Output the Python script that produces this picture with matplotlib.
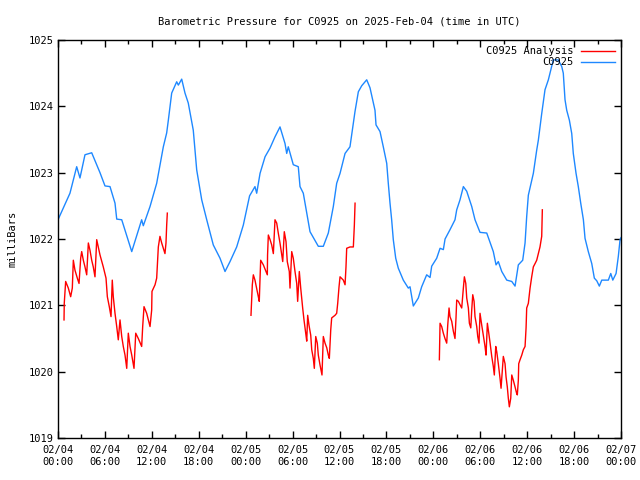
import numpy as np
import pandas as pd
import matplotlib
matplotlib.use('Agg')
import matplotlib.pyplot as plt
import matplotlib.dates as mdates

start = pd.Timestamp('2025-02-04 00:00')

# C0925 observed pressure (hours since 02/04 00:00, mbar)
obs_hours = [0.0, 1.53, 2.39, 2.81, 3.45, 4.31, 5.37, 6.01, 6.65, 7.29, 7.51, 8.15, 9.43,
             10.70, 10.91, 11.77, 12.62, 13.47, 13.90, 14.11, 14.54, 15.18, 15.39, 15.82,
             16.24, 16.66, 17.30, 17.74, 18.38, 19.02, 19.86, 20.72, 21.36, 22.0, 22.85,
             23.70, 24.5, 25.19, 25.41, 25.84, 26.48, 27.11, 27.75, 28.39, 29.03, 29.25,
             29.45, 30.09, 30.73, 30.95, 31.37, 31.81, 32.23, 33.29, 33.93, 34.57, 35.21,
             35.64, 36.07, 36.71, 37.34, 37.98, 38.41, 38.84, 39.48, 39.90, 40.54, 40.67,
             41.18, 41.60, 42.04, 42.24, 42.46, 42.67, 42.88, 43.19, 43.52, 44.16, 44.80,
             45.02, 45.44, 46.08,
             46.51, 47.15, 47.58, 47.79, 48.43, 48.86, 49.28, 49.50, 50.13, 50.77, 50.99,
             51.41, 51.84, 52.27, 52.91, 53.33, 53.97, 54.83, 55.67, 56.02, 56.31, 56.75,
             57.39, 58.03, 58.45, 58.87, 59.43, 59.73, 59.94, 60.15, 60.79, 61.22, 61.43,
             61.86, 62.28, 62.71, 63.34, 63.98, 64.42, 64.62, 64.84, 65.06, 65.40, 65.70,
             65.90, 66.25, 66.54, 66.85, 67.19, 67.40, 67.82, 68.26, 68.59, 68.90, 69.23,
             69.54, 70.38, 70.69, 70.95, 71.37, 71.66, 71.88, 72.0]
obs_mb = [1022.29, 1022.69, 1023.09, 1022.92, 1023.27, 1023.30, 1023.00, 1022.80, 1022.79,
          1022.54, 1022.30, 1022.29, 1021.81, 1022.29, 1022.20, 1022.49, 1022.84, 1023.39,
          1023.60, 1023.79, 1024.20, 1024.37, 1024.32, 1024.41, 1024.20, 1024.05, 1023.64,
          1023.04, 1022.59, 1022.29, 1021.91, 1021.71, 1021.51, 1021.66, 1021.88, 1022.21,
          1022.65, 1022.79, 1022.69, 1022.99, 1023.24, 1023.37, 1023.54, 1023.69, 1023.44,
          1023.29, 1023.39, 1023.12, 1023.09, 1022.79, 1022.69, 1022.39, 1022.11, 1021.89,
          1021.89, 1022.09, 1022.49, 1022.84, 1022.99, 1023.29, 1023.39, 1023.92, 1024.22,
          1024.31, 1024.40, 1024.28, 1023.94, 1023.72, 1023.62, 1023.39, 1023.14, 1022.84,
          1022.54, 1022.29, 1021.99, 1021.71, 1021.56, 1021.38, 1021.26, 1021.28, 1020.99,
          1021.11, 1021.28, 1021.46,
          1021.42, 1021.59, 1021.71, 1021.86, 1021.84, 1022.00, 1022.14, 1022.29, 1022.44,
          1022.59, 1022.79, 1022.72, 1022.49, 1022.29, 1022.10, 1022.09, 1021.81, 1021.61,
          1021.66, 1021.51, 1021.38, 1021.36, 1021.29, 1021.61, 1021.68, 1021.94, 1022.34,
          1022.66, 1022.99, 1023.34, 1023.49, 1023.89, 1024.25, 1024.40, 1024.70, 1024.70,
          1024.60, 1024.50, 1024.10, 1023.94, 1023.79, 1023.59, 1023.29, 1022.99, 1022.79,
          1022.54, 1022.29, 1022.01, 1021.81, 1021.63, 1021.41, 1021.37, 1021.29, 1021.38,
          1021.38, 1021.48, 1021.38, 1021.48, 1021.74, 1021.99, 1022.02]

# C0925 Analysis, three runs
ana1_hours = [0.77, 0.80, 0.98, 1.32, 1.62, 1.83, 1.96, 2.17, 2.47, 2.69, 2.90, 3.03, 3.24,
              3.45, 3.67, 3.88, 4.09, 4.31, 4.51, 4.73, 4.95, 5.15, 5.37, 5.79, 6.14, 6.31,
              6.56, 6.78, 6.94, 7.07, 7.29, 7.51, 7.71, 7.93, 8.15, 8.35, 8.57, 8.79, 8.99,
              9.21, 9.43, 9.72, 9.94, 10.27, 10.70, 10.83, 11.0, 11.34, 11.77, 11.98, 12.02,
              12.41, 12.62, 12.83, 13.04, 13.26, 13.68, 13.81, 13.90, 13.98]
ana1_mb = [1020.78, 1021.03, 1021.36, 1021.26, 1021.13, 1021.26, 1021.68, 1021.53, 1021.41,
           1021.33, 1021.71, 1021.81, 1021.68, 1021.58, 1021.46, 1021.94, 1021.83, 1021.68,
           1021.58, 1021.43, 1021.99, 1021.88, 1021.76, 1021.58, 1021.41, 1021.13, 1020.98,
           1020.83, 1021.38, 1021.13, 1020.88, 1020.68, 1020.48, 1020.78, 1020.53, 1020.38,
           1020.25, 1020.05, 1020.58, 1020.38, 1020.25, 1020.05, 1020.58, 1020.50, 1020.38,
           1020.68, 1020.98, 1020.88, 1020.68, 1020.93, 1021.21, 1021.31, 1021.41, 1021.88,
           1022.04, 1021.94, 1021.78, 1021.94, 1022.21, 1022.39]

ana2_hours = [24.68, 24.85, 24.98, 25.19, 25.62, 25.74, 25.83, 25.92, 26.26, 26.77, 26.80,
              26.90, 27.12, 27.33, 27.54, 27.75, 27.97, 28.17, 28.39, 28.74, 28.94, 29.16,
              29.32, 29.58, 29.67, 29.89, 30.09, 30.31, 30.53, 30.65, 30.86, 31.04, 31.29,
              31.46, 31.68, 31.81, 31.93, 32.10, 32.32, 32.45, 32.65, 32.78, 32.96, 33.16,
              33.29, 33.51, 33.76, 33.93, 34.15, 34.37, 34.57, 34.70, 34.88, 35.00, 35.43,
              35.64, 35.77, 35.94, 36.07, 36.49, 36.71, 36.83, 36.92, 37.34, 37.77, 37.90,
              37.99]
ana2_mb = [1020.85, 1021.31, 1021.46, 1021.38, 1021.13, 1021.06, 1021.38, 1021.68, 1021.61,
           1021.46, 1021.76, 1022.06, 1021.99, 1021.91, 1021.78, 1022.29, 1022.24, 1022.09,
           1021.94, 1021.66, 1022.11, 1021.96, 1021.66, 1021.51, 1021.26, 1021.81, 1021.71,
           1021.51, 1021.33, 1021.06, 1021.51, 1021.26, 1020.96, 1020.78, 1020.58, 1020.46,
           1020.85, 1020.70, 1020.55, 1020.33, 1020.20, 1020.05, 1020.53, 1020.43, 1020.25,
           1020.10, 1019.95, 1020.53, 1020.43, 1020.36, 1020.25, 1020.20, 1020.63, 1020.81,
           1020.85, 1020.88, 1021.03, 1021.28, 1021.43, 1021.38, 1021.31, 1021.58, 1021.86,
           1021.88, 1021.88, 1022.21, 1022.54]

ana3_hours = [48.77, 48.86, 49.07, 49.28, 49.49, 49.71, 49.84, 50.01, 50.13, 50.35, 50.56,
              50.77, 50.90, 50.99, 51.20, 51.41, 51.63, 51.84, 51.97, 52.15, 52.27, 52.48,
              52.61, 52.79, 52.91, 53.04, 53.21, 53.33, 53.55, 53.68, 53.84, 53.97, 54.19,
              54.39, 54.61, 54.74, 54.91, 55.09, 55.26, 55.47, 55.67, 55.80, 55.98, 56.11,
              56.31, 56.53, 56.66, 56.95, 57.17, 57.30, 57.46, 57.59, 57.72, 57.90, 58.03,
              58.23, 58.45, 58.66, 58.74, 58.87, 58.92, 59.09, 59.31, 59.51, 59.73, 59.86,
              59.94, 60.15, 60.37, 60.58, 60.79, 61.01, 61.22, 61.43, 61.64, 61.86, 61.94]
ana3_mb = [1020.18, 1020.73, 1020.68, 1020.58, 1020.50, 1020.43, 1020.70, 1020.96, 1020.83,
           1020.76, 1020.61, 1020.50, 1020.81, 1021.08, 1021.06, 1021.01, 1020.96, 1021.26,
           1021.43, 1021.33, 1021.11, 1020.96, 1020.73, 1020.66, 1020.93, 1021.16, 1021.06,
           1020.83, 1020.68, 1020.53, 1020.43, 1020.88, 1020.70, 1020.55, 1020.38, 1020.25,
           1020.73, 1020.58, 1020.43, 1020.23, 1020.08, 1019.95, 1020.38, 1020.30, 1020.12,
           1019.90, 1019.75, 1020.23, 1020.12, 1019.92, 1019.77, 1019.60, 1019.47, 1019.60,
           1019.95, 1019.87, 1019.77, 1019.67, 1019.65, 1019.87, 1020.12, 1020.18, 1020.25,
           1020.33, 1020.38, 1020.66, 1020.96, 1021.03, 1021.26, 1021.43, 1021.58, 1021.63,
           1021.68, 1021.78, 1021.88, 1022.04, 1022.44]


def to_time(hours):
    return start + pd.to_timedelta(hours, unit='h')


plt.rcParams['font.family'] = 'DejaVu Sans Mono'
plt.rcParams['font.size'] = 7.5

fig = plt.figure(figsize=(6.4, 4.8), dpi=100)
ax = fig.add_axes([58 / 640, 42 / 480, 563 / 640, 398 / 480])

red = '#ff0000'
blue = '#1e88ff'
ax.plot(to_time(ana1_hours), ana1_mb, color=red, lw=1, label='C0925 Analysis')
ax.plot(to_time(ana2_hours), ana2_mb, color=red, lw=1)
ax.plot(to_time(ana3_hours), ana3_mb, color=red, lw=1)
ax.plot(to_time(obs_hours), obs_mb, color=blue, lw=1, label='C0925')

ax.set_xlim(start, start + pd.Timedelta(hours=72))
ax.set_ylim(1019, 1025)
ax.set_yticks(np.arange(1019, 1026, 1))
ax.set_yticklabels([str(v) for v in range(1019, 1026)])
ax.xaxis.set_major_locator(mdates.HourLocator(byhour=[0, 6, 12, 18]))
ax.xaxis.set_minor_locator(mdates.HourLocator(byhour=[3, 9, 15, 21]))
ax.xaxis.set_major_formatter(mdates.DateFormatter('%m/%d\n%H:%M'))

ax.tick_params(which='both', direction='in', top=True, right=True, width=1, pad=3)
ax.tick_params(which='major', length=5)
ax.tick_params(which='minor', length=3)
ax.tick_params(axis='x', which='major', pad=5)
for s in ax.spines.values():
    s.set_linewidth(1)

ax.set_ylabel('milliBars', labelpad=8)
ax.set_title('Barometric Pressure for C0925 on 2025-Feb-04 (time in UTC)', pad=11, fontsize=7.5)

ax.legend(loc='upper right', frameon=False, markerfirst=False, handlelength=3.2,
          borderaxespad=0.2, labelspacing=0.1, handletextpad=0.8)

fig.savefig('out.png', dpi=100)
